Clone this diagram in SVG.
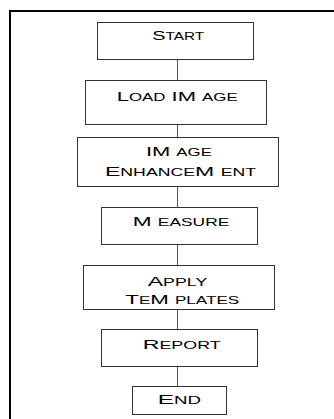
<svg xmlns="http://www.w3.org/2000/svg" width="334" height="419" viewBox="0 0 334 419">
<style>
.frame{fill:none;stroke:#000;stroke-width:2}
.box{fill:#fff;stroke:#333;stroke-width:1}
.conn{stroke:#555;stroke-width:1;fill:none}
text{font-family:"Liberation Sans",Arial,sans-serif;font-size:13px;fill:#000}
.s{font-size:10px}
</style>
<rect width="334" height="419" fill="#fff"/>
<rect class="frame" x="10" y="11" width="400" height="500"/>
<g id="connectors">
<line class="conn" x1="177.5" y1="59.5" x2="177.5" y2="80.5"/>
<line class="conn" x1="177.5" y1="124.5" x2="177.5" y2="137.5"/>
<line class="conn" x1="177.5" y1="186.5" x2="177.5" y2="207.5"/>
<line class="conn" x1="177.5" y1="244.5" x2="177.5" y2="265.5"/>
<line class="conn" x1="177.5" y1="309.5" x2="177.5" y2="329.5"/>
<line class="conn" x1="177.5" y1="366.5" x2="177.5" y2="386.5"/>
</g>
<g id="start">
<rect class="box" x="97.5" y="22.5" width="156" height="37"/>
<text transform="translate(152.3,39.5) scale(1.4,1)" textLength="37.1" lengthAdjust="spacingAndGlyphs">S<tspan class="s">TART</tspan></text>
</g>
<g id="load">
<rect class="box" x="85.5" y="80.5" width="181" height="44"/>
<text transform="translate(116.7,100.5) scale(1.4,1)" textLength="86.4" lengthAdjust="spacingAndGlyphs">L<tspan class="s">OAD</tspan> IM <tspan class="s">AGE</tspan></text>
</g>
<g id="enhance">
<rect class="box" x="77.5" y="137.5" width="201" height="49"/>
<text transform="translate(146,156) scale(1.4,1)" textLength="47.1" lengthAdjust="spacingAndGlyphs">IM <tspan class="s">AGE</tspan></text>
<text transform="translate(105,176) scale(1.4,1)" textLength="107.9" lengthAdjust="spacingAndGlyphs">E<tspan class="s">NHANCE</tspan>M <tspan class="s">ENT</tspan></text>
</g>
<g id="measure">
<rect class="box" x="101.5" y="207.5" width="156" height="37"/>
<text transform="translate(132.7,226) scale(1.4,1)" textLength="69" lengthAdjust="spacingAndGlyphs">M <tspan class="s">EASURE</tspan></text>
</g>
<g id="apply">
<rect class="box" x="83.5" y="265.5" width="191" height="44"/>
<text transform="translate(147.7,286) scale(1.4,1)" textLength="42.6" lengthAdjust="spacingAndGlyphs">A<tspan class="s">PPLY</tspan></text>
<text transform="translate(125.3,304.3) scale(1.4,1)" textLength="81.4" lengthAdjust="spacingAndGlyphs">T<tspan class="s">E</tspan>M <tspan class="s">PLATES</tspan></text>
</g>
<g id="report">
<rect class="box" x="101.5" y="329.5" width="156" height="37"/>
<text transform="translate(142.7,349) scale(1.4,1)" textLength="55.7" lengthAdjust="spacingAndGlyphs">R<tspan class="s">EPORT</tspan></text>
</g>
<g id="end">
<rect class="box" x="132.5" y="386.5" width="94" height="28"/>
<text transform="translate(157.7,404.3) scale(1.4,1)" textLength="30.9" lengthAdjust="spacingAndGlyphs">E<tspan class="s">ND</tspan></text>
</g>
</svg>
